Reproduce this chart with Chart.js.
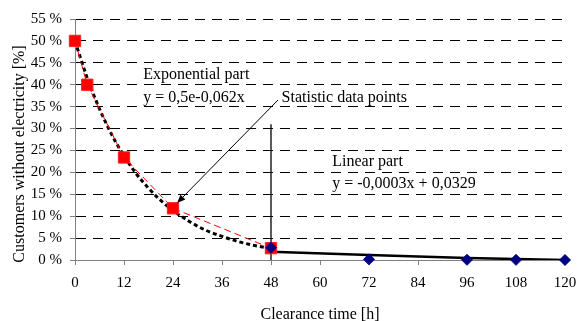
<!DOCTYPE html>
<html>
<head>
<meta charset="utf-8">
<style>
    html, body { margin: 0; padding: 0; background: #fff; }
    #wrap { width: 578px; height: 321px; }
</style>
<script src="https://cdn.jsdelivr.net/npm/chart.js@4/dist/chart.umd.min.js"></script>
</head>
<body>
<div id="wrap"><canvas id="chart" width="578" height="321"></canvas></div>
<script>
const FONT = "'Liberation Serif', 'Times New Roman', serif";

// statistic data points (red squares)
const statHours = [0, 3, 12, 24, 48];
const statValues = [50, 40, 23.4, 11.8, 2.7];

// later observations (blue diamonds)
const lateHours = [48, 72, 96, 108, 120];
const lateValues = [2.8, 0.15, 0.05, 0.03, 0];

// exponential part
const expHours = [0, 3, 6, 9, 12, 15, 18, 21, 24, 28, 32, 36, 40, 44, 48];
const expValues = [50, 41.5, 34.5, 28.6, 23.8, 19.7, 16.4, 13.6, 11.3, 8.8, 6.8, 5.4, 4.2, 3.3, 2.6];

// linear part
const linHours = [48, 72, 96, 120];
const linValues = [1.9, 1.15, 0.45, 0];

// divider between the two parts
const dividerHours = [48, 48];
const dividerValues = [0, 31];

// axes
const hourTicks = [0, 12, 24, 36, 48, 60, 72, 84, 96, 108, 120];
const percentTicks = [0, 5, 10, 15, 20, 25, 30, 35, 40, 45, 50, 55];

const xTitle = "Clearance time [h]";
const yTitle = "Customers without electricity [%]";

const notes = [
    { text: "Exponential part", x: 16.7, y: 41.3 },
    { text: "y = 0,5e-0,062x", x: 16.7, y: 36.1 },
    { text: "Statistic data points", x: 50.6, y: 36.1 },
    { text: "Linear part", x: 63.0, y: 21.4 },
    { text: "y = -0,0003x + 0,0329", x: 63.0, y: 16.4 },
];
const arrowFrom = { x: 49.7, y: 36.5 };
const arrowTo = { x: 25.0, y: 13.0 };

function toPoints(xs, ys) {
    return xs.map((x, i) => {
        return { x: x, y: ys[i] };
    });
}

const annotations = {
    id: "annotations",
    afterDatasetsDraw(chart) {
        const ctx = chart.ctx;
        const xs = chart.scales.x;
        const ys = chart.scales.y;

        ctx.save();
        ctx.fillStyle = "#000";
        ctx.font = "16px " + FONT;
        ctx.textBaseline = "alphabetic";
        ctx.textAlign = "left";
        notes.forEach((n) => {
            ctx.fillText(n.text, xs.getPixelForValue(n.x), ys.getPixelForValue(n.y));
        });

        // arrow to the statistic point
        const x1 = xs.getPixelForValue(arrowFrom.x);
        const y1 = ys.getPixelForValue(arrowFrom.y);
        const x2 = xs.getPixelForValue(arrowTo.x);
        const y2 = ys.getPixelForValue(arrowTo.y);
        const ang = Math.atan2(y2 - y1, x2 - x1);
        ctx.strokeStyle = "#000";
        ctx.lineWidth = 1;
        ctx.beginPath();
        ctx.moveTo(x1, y1);
        ctx.lineTo(x2 - 6 * Math.cos(ang), y2 - 6 * Math.sin(ang));
        ctx.stroke();
        ctx.beginPath();
        ctx.moveTo(x2, y2);
        ctx.lineTo(x2 - 9 * Math.cos(ang - 0.4), y2 - 9 * Math.sin(ang - 0.4));
        ctx.lineTo(x2 - 9 * Math.cos(ang + 0.4), y2 - 9 * Math.sin(ang + 0.4));
        ctx.closePath();
        ctx.fill();

        // y axis title
        ctx.translate(20, 154);
        ctx.rotate(-Math.PI / 2);
        ctx.textAlign = "center";
        ctx.textBaseline = "middle";
        ctx.fillText(yTitle, 0, 0);
        ctx.restore();
    },
};

const ctx = document.getElementById("chart").getContext("2d");

new Chart(ctx, {
    type: "line",
    data: {
        datasets: [
            {
                label: "Later data",
                data: toPoints(lateHours, lateValues),
                showLine: false,
                pointStyle: "rectRot",
                pointRadius: 5.5,
                backgroundColor: "#000080",
                borderColor: "#000080",
                borderWidth: 1,
                clip: false,
                order: 0,
            },
            {
                label: "Statistic data points",
                data: toPoints(statHours, statValues),
                borderColor: "#ff0000",
                borderWidth: 1,
                borderDash: [7, 4],
                pointStyle: "rect",
                pointRadius: 8,
                pointBackgroundColor: "#ff0000",
                pointBorderColor: "#ff2020",
                pointBorderWidth: 1,
                clip: false,
                order: 1,
            },
            {
                label: "Exponential part",
                data: toPoints(expHours, expValues),
                borderColor: "#000",
                borderWidth: 3,
                borderDash: [4, 3],
                cubicInterpolationMode: "monotone",
                pointRadius: 0,
                order: 2,
            },
            {
                label: "Linear part",
                data: toPoints(linHours, linValues),
                borderColor: "#000",
                borderWidth: 2.5,
                pointRadius: 0,
                order: 3,
            },
            {
                label: "Divider",
                data: toPoints(dividerHours, dividerValues),
                borderColor: "#000",
                borderWidth: 1.3,
                pointRadius: 0,
                order: 4,
            },
        ],
    },
    options: {
        responsive: false,
        animation: false,
        devicePixelRatio: 1,
        layout: {
            padding: { top: 19, right: 0, left: 0, bottom: 0 },
        },
        plugins: {
            legend: { display: false },
            tooltip: { enabled: false },
        },
        scales: {
            x: {
                type: "linear",
                min: 0,
                max: 120,
                afterBuildTicks: (scale) => {
                    scale.ticks = hourTicks.map((v) => ({ value: v }));
                },
                afterFit: (scale) => {
                    scale.height = 61;
                    scale.paddingLeft = 0;
                    scale.paddingRight = 13;
                },
                ticks: {
                    color: "#000",
                    padding: 9,
                    font: { family: FONT, size: 15 },
                },
                grid: {
                    drawOnChartArea: false,
                    drawTicks: true,
                    tickLength: 5,
                    tickColor: "#808080",
                },
                border: { color: "#808080", width: 1 },
                title: {
                    display: true,
                    text: xTitle,
                    color: "#000",
                    font: { family: FONT, size: 16 },
                    padding: { top: 0, bottom: -3 },
                },
            },
            y: {
                min: 0,
                max: 55,
                afterBuildTicks: (scale) => {
                    scale.ticks = percentTicks.map((v) => ({ value: v }));
                },
                afterFit: (scale) => {
                    scale.width = 75;
                },
                ticks: {
                    color: "#000",
                    padding: 8,
                    font: { family: FONT, size: 15 },
                    callback: (v) => v + " %",
                },
                grid: {
                    color: "#000",
                    lineWidth: 1,
                    tickLength: 5,
                    tickColor: "#808080",
                    tickBorderDash: [],
                },
                border: { color: "#808080", width: 1, dash: [10, 7] },
            },
        },
    },
    plugins: [annotations],
});
</script>
</body>
</html>
